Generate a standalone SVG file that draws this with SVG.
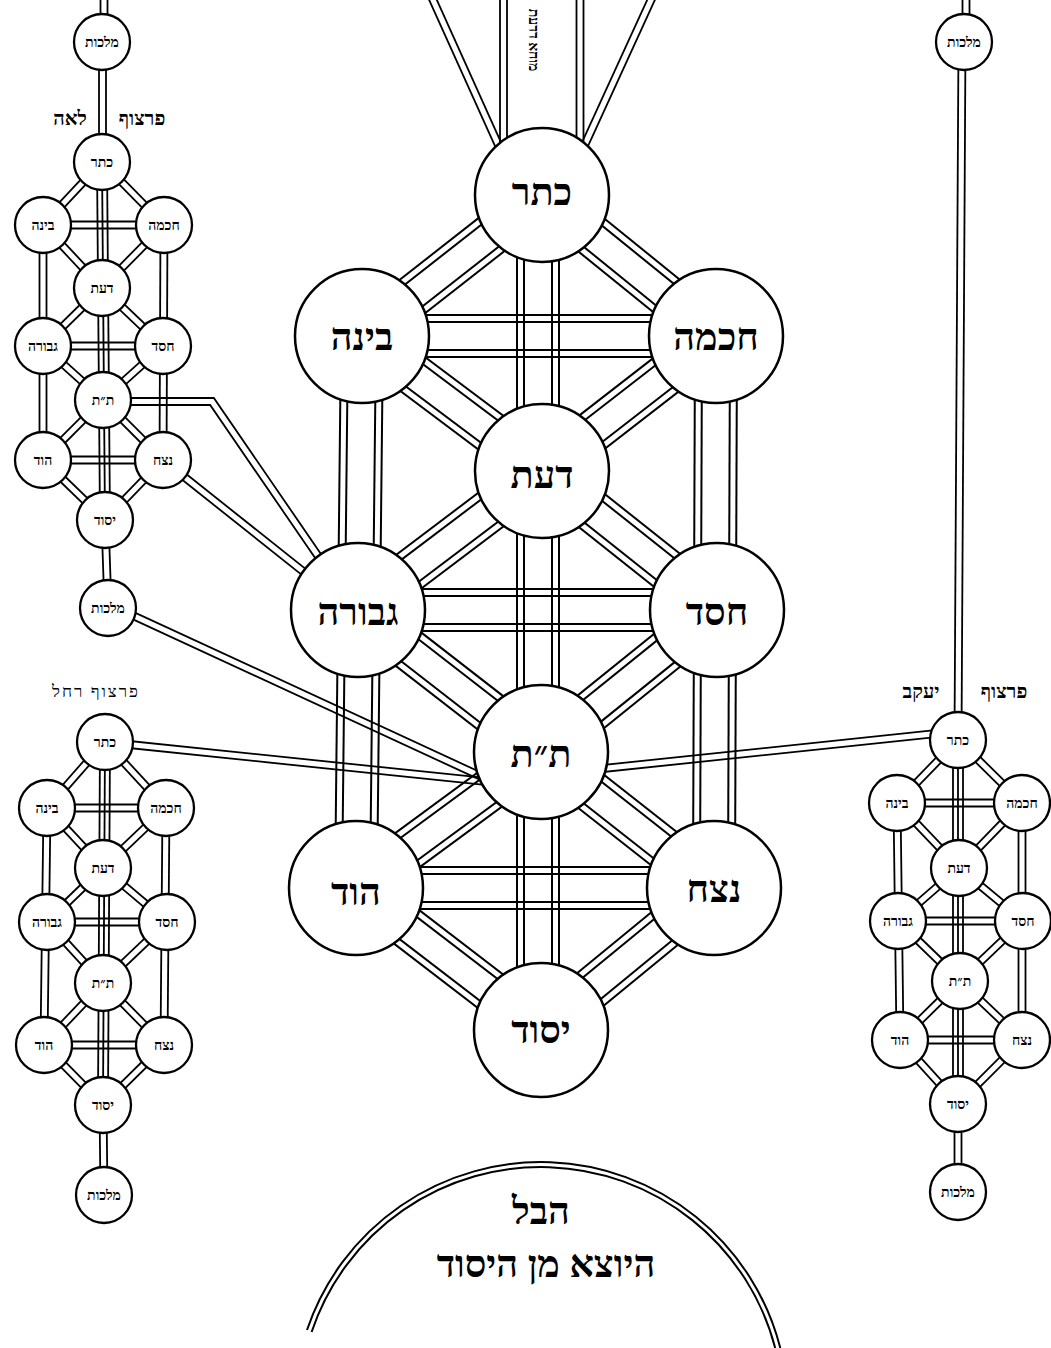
<svg xmlns="http://www.w3.org/2000/svg" xmlns:xlink="http://www.w3.org/1999/xlink" width="1051" height="1348" viewBox="0 0 1051 1348">
<style>
.ln line{stroke:#000;stroke-width:2;fill:none}
.sl line{stroke:#000;stroke-width:1.8;fill:none}
.pl{stroke:#000;stroke-width:1.8;fill:none}
.c{fill:#fff;stroke:#000;stroke-width:2.5}
.cs{fill:#fff;stroke:#000;stroke-width:2.3}
.big{font-family:"Liberation Serif","DejaVu Serif",serif;font-weight:bold;font-size:38px;text-anchor:middle}
.sm{font-family:"Liberation Serif","DejaVu Serif",serif;font-weight:bold;font-size:14px;text-anchor:middle}
.lab{font-family:"Liberation Serif","DejaVu Serif",serif;font-weight:bold;font-size:20px;text-anchor:middle}
.labt{font-family:"Liberation Serif","DejaVu Serif",serif;font-weight:normal;font-size:17px;letter-spacing:2px;text-anchor:middle}
.arc{fill:none;stroke:#000;stroke-width:2}
</style>
<defs>
<g id="m4" class="ln"><line x1="0" y1="-21" x2="1" y2="-21"/><line x1="0" y1="-14" x2="1" y2="-14"/><line x1="0" y1="14" x2="1" y2="14"/><line x1="0" y1="21" x2="1" y2="21"/></g>
<g id="t2" class="sl"><line x1="0" y1="-3.5" x2="1" y2="-3.5"/><line x1="0" y1="3.5" x2="1" y2="3.5"/></g>
<g id="t3" class="sl"><line x1="0" y1="-5" x2="1" y2="-5"/><line x1="0" y1="0" x2="1" y2="0"/><line x1="0" y1="5" x2="1" y2="5"/></g>
</defs>
<rect width="1051" height="1348" fill="#fff"/>
<g id="connectors">
<use href="#t2" transform="translate(503.5 -5) rotate(90) scale(200 1)"/>
<use href="#t2" transform="translate(580 -5) rotate(90) scale(200 1)"/>
<use href="#t2" transform="translate(428.1 -10.9) rotate(65.74) scale(182 1)"/>
<use href="#t2" transform="translate(656 -10.9) rotate(114.6) scale(182 1)"/>
<use href="#m4" transform="translate(542 195) rotate(141.93) scale(228.7 1)"/>
<use href="#m4" transform="translate(542 195) rotate(39.02) scale(224 1)"/>
<use href="#m4" transform="translate(538 195) rotate(90) scale(835 1)"/>
<use href="#m4" transform="translate(362 336) scale(354 1)"/>
<use href="#m4" transform="translate(362 336) rotate(36.87) scale(225 1)"/>
<use href="#m4" transform="translate(716 336) rotate(142.19) scale(220.2 1)"/>
<use href="#m4" transform="translate(362 336) rotate(90.62) scale(552 1)"/>
<use href="#m4" transform="translate(716 336) rotate(90.21) scale(552 1)"/>
<use href="#m4" transform="translate(542 471) rotate(142.93) scale(230.6 1)"/>
<use href="#m4" transform="translate(542 471) rotate(38.46) scale(223.5 1)"/>
<use href="#m4" transform="translate(358 610) scale(359 1)"/>
<use href="#m4" transform="translate(358 610) rotate(37.81) scale(231.6 1)"/>
<use href="#m4" transform="translate(717 610) rotate(141.1) scale(226.1 1)"/>
<use href="#m4" transform="translate(541 752) rotate(143.68) scale(229.6 1)"/>
<use href="#m4" transform="translate(541 752) rotate(38.17) scale(220.1 1)"/>
<use href="#m4" transform="translate(356 888) scale(358 1)"/>
<use href="#m4" transform="translate(356 888) rotate(37.51) scale(233.2 1)"/>
<use href="#m4" transform="translate(714 888) rotate(140.62) scale(223.8 1)"/>
<use href="#t2" transform="translate(104 -5) rotate(90) scale(40 1)"/>
<use href="#t2" transform="translate(102.5 42) rotate(90) scale(120 1)"/>
<use href="#t2" transform="translate(102 162) rotate(133.12) scale(86.3 1)"/>
<use href="#t2" transform="translate(102 162) rotate(45.46) scale(88.4 1)"/>
<use href="#t3" transform="translate(102 162) rotate(89.52) scale(358 1)"/>
<use href="#t2" transform="translate(43 225) scale(121 1)"/>
<use href="#t2" transform="translate(43 225) rotate(46.88) scale(86.3 1)"/>
<use href="#t2" transform="translate(164 225) rotate(134.54) scale(88.4 1)"/>
<use href="#t2" transform="translate(43 225) rotate(90) scale(235 1)"/>
<use href="#t2" transform="translate(164 225) rotate(90.24) scale(235 1)"/>
<use href="#t2" transform="translate(102 288) rotate(135.5) scale(82.7 1)"/>
<use href="#t2" transform="translate(102 288) rotate(43.56) scale(84.2 1)"/>
<use href="#t2" transform="translate(43 346) scale(120 1)"/>
<use href="#t2" transform="translate(43 346) rotate(41.99) scale(80.7 1)"/>
<use href="#t2" transform="translate(163 346) rotate(138.01) scale(80.7 1)"/>
<use href="#t2" transform="translate(103 400) rotate(135) scale(84.9 1)"/>
<use href="#t2" transform="translate(103 400) rotate(45) scale(84.9 1)"/>
<use href="#t2" transform="translate(43 460) scale(120 1)"/>
<use href="#t2" transform="translate(43 460) rotate(44.06) scale(86.3 1)"/>
<use href="#t2" transform="translate(163 460) rotate(134.03) scale(83.4 1)"/>
<use href="#t2" transform="translate(105 520) rotate(88.05) scale(88 1)"/>
<polyline class="pl" points="110,398 213.85,398 326.6,562.2"/>
<polyline class="pl" points="110,405 210.15,405 320.8,566.2"/>
<use href="#t2" transform="translate(163 460) rotate(38.5) scale(250 1)"/>
<use href="#t2" transform="translate(108 604) rotate(24.8) scale(420 1)"/>
<use href="#t2" transform="translate(105 742) rotate(5.92) scale(382 1)"/>
<use href="#t2" transform="translate(105 742) rotate(131.3) scale(87.9 1)"/>
<use href="#t2" transform="translate(105 742) rotate(47.25) scale(89.9 1)"/>
<use href="#t3" transform="translate(105 742) rotate(90.32) scale(363 1)"/>
<use href="#t2" transform="translate(47 808) scale(119 1)"/>
<use href="#t2" transform="translate(47 808) rotate(46.97) scale(82.1 1)"/>
<use href="#t2" transform="translate(166 808) rotate(136.4) scale(87 1)"/>
<use href="#t2" transform="translate(47 808) rotate(90.73) scale(237 1)"/>
<use href="#t2" transform="translate(166 808) rotate(90.48) scale(237 1)"/>
<use href="#t2" transform="translate(103 868) rotate(136.04) scale(77.8 1)"/>
<use href="#t2" transform="translate(103 868) rotate(40.16) scale(83.7 1)"/>
<use href="#t2" transform="translate(47 922) scale(120 1)"/>
<use href="#t2" transform="translate(47 922) rotate(47.45) scale(82.8 1)"/>
<use href="#t2" transform="translate(167 922) rotate(136.38) scale(88.4 1)"/>
<use href="#t2" transform="translate(103 983) rotate(133.58) scale(85.6 1)"/>
<use href="#t2" transform="translate(103 983) rotate(45.46) scale(87 1)"/>
<use href="#t2" transform="translate(44 1045) scale(120 1)"/>
<use href="#t2" transform="translate(44 1045) rotate(45.48) scale(84.1 1)"/>
<use href="#t2" transform="translate(164 1045) rotate(135.47) scale(85.6 1)"/>
<use href="#t2" transform="translate(103 1105) rotate(89.36) scale(90 1)"/>
<use href="#t2" transform="translate(541 775) rotate(-5.98) scale(418 1)"/>
<use href="#t2" transform="translate(966 -5) rotate(90) scale(40 1)"/>
<use href="#t2" transform="translate(962 42) rotate(90.33) scale(698 1)"/>
<use href="#t2" transform="translate(958 740) rotate(134.08) scale(87.7 1)"/>
<use href="#t2" transform="translate(958 740) rotate(44.55) scale(89.8 1)"/>
<use href="#t3" transform="translate(958 740) rotate(90) scale(364 1)"/>
<use href="#t2" transform="translate(897 803) scale(125 1)"/>
<use href="#t2" transform="translate(897 803) rotate(46.35) scale(89.8 1)"/>
<use href="#t2" transform="translate(1022 803) rotate(134.1) scale(90.5 1)"/>
<use href="#t2" transform="translate(897 803) rotate(89.27) scale(237 1)"/>
<use href="#t2" transform="translate(1022 803) rotate(90) scale(237 1)"/>
<use href="#t2" transform="translate(959 868) rotate(139) scale(80.8 1)"/>
<use href="#t2" transform="translate(959 868) rotate(39.63) scale(83.1 1)"/>
<use href="#t2" transform="translate(898 921) scale(125 1)"/>
<use href="#t2" transform="translate(898 921) rotate(44.06) scale(86.3 1)"/>
<use href="#t2" transform="translate(1023 921) rotate(136.4) scale(87 1)"/>
<use href="#t2" transform="translate(960 981) rotate(135.48) scale(84.1 1)"/>
<use href="#t2" transform="translate(960 981) rotate(43.58) scale(85.6 1)"/>
<use href="#t2" transform="translate(900 1040) scale(122 1)"/>
<use href="#t2" transform="translate(900 1040) rotate(47.8) scale(86.4 1)"/>
<use href="#t2" transform="translate(1022 1040) rotate(135) scale(90.5 1)"/>
<use href="#t2" transform="translate(958 1104) rotate(90) scale(88 1)"/>
</g>
<text class="sm" font-weight="normal" transform="translate(529 40) rotate(90)">מוחא דדעת</text>
<g id="keter"><circle class="c" cx="542" cy="195" r="67"/><text class="big" x="542" y="205">כתר</text></g>
<g id="binah"><circle class="c" cx="362" cy="336" r="67"/><text class="big" x="362" y="350">בינה</text></g>
<g id="chokhmah"><circle class="c" cx="716" cy="336" r="67"/><text class="big" x="716" y="350">חכמה</text></g>
<g id="daat"><circle class="c" cx="542" cy="471" r="67"/><text class="big" x="542" y="488">דעת</text></g>
<g id="gevurah"><circle class="c" cx="358" cy="610" r="67"/><text class="big" x="358" y="625">גבורה</text></g>
<g id="chesed"><circle class="c" cx="717" cy="610" r="67"/><text class="big" x="717" y="625">חסד</text></g>
<g id="tiferet"><circle class="c" cx="541" cy="752" r="67"/><text class="big" x="541" y="767">ת״ת</text></g>
<g id="hod"><circle class="c" cx="356" cy="888" r="67"/><text class="big" x="356" y="905">הוד</text></g>
<g id="netzach"><circle class="c" cx="714" cy="888" r="67"/><text class="big" x="714" y="902">נצח</text></g>
<g id="yesod"><circle class="c" cx="541" cy="1030" r="67"/><text class="big" x="541" y="1043">יסוד</text></g>
<g id="leah-malkhut-top"><circle class="cs" cx="102" cy="42" r="28"/><text class="sm" x="102" y="47">מלכות</text></g>
<g id="leah-keter"><circle class="cs" cx="102" cy="162" r="28"/><text class="sm" x="102" y="167">כתר</text></g>
<g id="leah-binah"><circle class="cs" cx="43" cy="225" r="28"/><text class="sm" x="43" y="230">בינה</text></g>
<g id="leah-chokhmah"><circle class="cs" cx="164" cy="225" r="28"/><text class="sm" x="164" y="230">חכמה</text></g>
<g id="leah-daat"><circle class="cs" cx="102" cy="288" r="28"/><text class="sm" x="102" y="293">דעת</text></g>
<g id="leah-gevurah"><circle class="cs" cx="43" cy="346" r="28"/><text class="sm" x="43" y="351">גבורה</text></g>
<g id="leah-chesed"><circle class="cs" cx="163" cy="346" r="28"/><text class="sm" x="163" y="351">חסד</text></g>
<g id="leah-tiferet"><circle class="cs" cx="103" cy="400" r="28"/><text class="sm" x="103" y="405">ת״ת</text></g>
<g id="leah-hod"><circle class="cs" cx="43" cy="460" r="28"/><text class="sm" x="43" y="465">הוד</text></g>
<g id="leah-netzach"><circle class="cs" cx="163" cy="460" r="28"/><text class="sm" x="163" y="465">נצח</text></g>
<g id="leah-yesod"><circle class="cs" cx="105" cy="520" r="28"/><text class="sm" x="105" y="525">יסוד</text></g>
<g id="leah-malkhut"><circle class="cs" cx="108" cy="608" r="28"/><text class="sm" x="108" y="613">מלכות</text></g>
<g id="leah-label"><text class="lab" x="142" y="125">פרצוף</text><text class="lab" x="70" y="125">לאה</text></g>
<g id="rachel-label"><text class="labt" x="96" y="697">פרצוף רחל</text></g>
<g id="rachel-keter"><circle class="cs" cx="105" cy="742" r="28"/><text class="sm" x="105" y="747">כתר</text></g>
<g id="rachel-binah"><circle class="cs" cx="47" cy="808" r="28"/><text class="sm" x="47" y="813">בינה</text></g>
<g id="rachel-chokhmah"><circle class="cs" cx="166" cy="808" r="28"/><text class="sm" x="166" y="813">חכמה</text></g>
<g id="rachel-daat"><circle class="cs" cx="103" cy="868" r="28"/><text class="sm" x="103" y="873">דעת</text></g>
<g id="rachel-gevurah"><circle class="cs" cx="47" cy="922" r="28"/><text class="sm" x="47" y="927">גבורה</text></g>
<g id="rachel-chesed"><circle class="cs" cx="167" cy="922" r="28"/><text class="sm" x="167" y="927">חסד</text></g>
<g id="rachel-tiferet"><circle class="cs" cx="103" cy="983" r="28"/><text class="sm" x="103" y="988">ת״ת</text></g>
<g id="rachel-hod"><circle class="cs" cx="44" cy="1045" r="28"/><text class="sm" x="44" y="1050">הוד</text></g>
<g id="rachel-netzach"><circle class="cs" cx="164" cy="1045" r="28"/><text class="sm" x="164" y="1050">נצח</text></g>
<g id="rachel-yesod"><circle class="cs" cx="103" cy="1105" r="28"/><text class="sm" x="103" y="1110">יסוד</text></g>
<g id="rachel-malkhut"><circle class="cs" cx="104" cy="1195" r="28"/><text class="sm" x="104" y="1200">מלכות</text></g>
<g id="yaakov-malkhut-top"><circle class="cs" cx="964" cy="42" r="28"/><text class="sm" x="964" y="47">מלכות</text></g>
<g id="yaakov-label"><text class="lab" x="1004" y="698">פרצוף</text><text class="lab" x="921" y="698">יעקב</text></g>
<g id="yaakov-keter"><circle class="cs" cx="958" cy="740" r="28"/><text class="sm" x="958" y="745">כתר</text></g>
<g id="yaakov-binah"><circle class="cs" cx="897" cy="803" r="28"/><text class="sm" x="897" y="808">בינה</text></g>
<g id="yaakov-chokhmah"><circle class="cs" cx="1022" cy="803" r="28"/><text class="sm" x="1022" y="808">חכמה</text></g>
<g id="yaakov-daat"><circle class="cs" cx="959" cy="868" r="28"/><text class="sm" x="959" y="873">דעת</text></g>
<g id="yaakov-gevurah"><circle class="cs" cx="898" cy="921" r="28"/><text class="sm" x="898" y="926">גבורה</text></g>
<g id="yaakov-chesed"><circle class="cs" cx="1023" cy="921" r="28"/><text class="sm" x="1023" y="926">חסד</text></g>
<g id="yaakov-tiferet"><circle class="cs" cx="960" cy="981" r="28"/><text class="sm" x="960" y="986">ת״ת</text></g>
<g id="yaakov-hod"><circle class="cs" cx="900" cy="1040" r="28"/><text class="sm" x="900" y="1045">הוד</text></g>
<g id="yaakov-netzach"><circle class="cs" cx="1022" cy="1040" r="28"/><text class="sm" x="1022" y="1045">נצח</text></g>
<g id="yaakov-yesod"><circle class="cs" cx="958" cy="1104" r="28"/><text class="sm" x="958" y="1109">יסוד</text></g>
<g id="yaakov-malkhut"><circle class="cs" cx="958" cy="1192" r="28"/><text class="sm" x="958" y="1197">מלכות</text></g>
<g id="hevel">
<path class="arc" d="M307 1330 A247 247 0 0 1 780.3 1348"/>
<path class="arc" d="M311.6 1332 A242 242 0 0 1 775.2 1348"/>
<text class="big" x="541" y="1224" font-size="36">הבל</text>
<text class="big" x="546" y="1277" font-size="34">היוצא מן היסוד</text>
</g>
</svg>
